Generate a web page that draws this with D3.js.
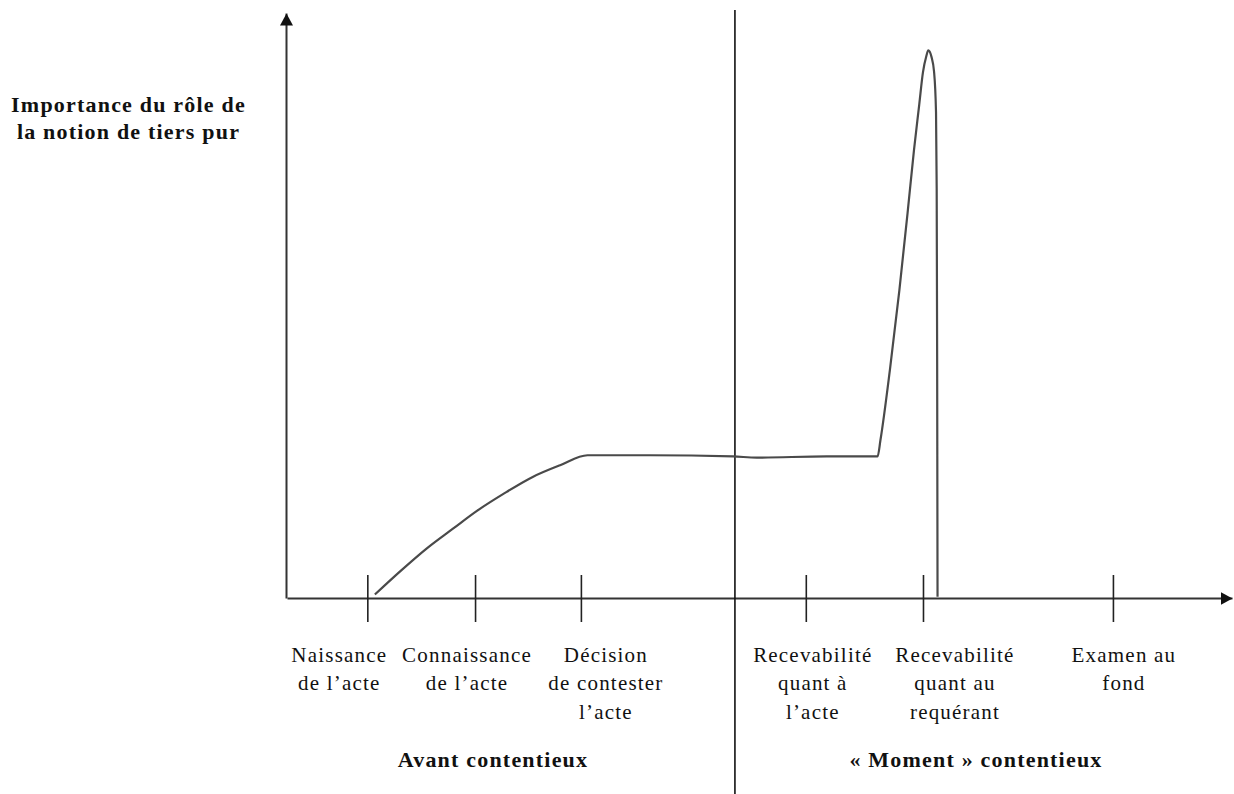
<!DOCTYPE html>
<html>
<head>
<meta charset="utf-8">
<script src="https://cdn.jsdelivr.net/npm/d3@7"></script>
<style>
  body { margin: 0; background: #fff; }
  svg { display: block; }
  svg text { font-family: "Liberation Serif", "DejaVu Serif", serif; fill: #111; }
</style>
</head>
<body>
<div class="svg-container"></div>
<script>
// stages along the time axis (position in abstract time units 0-100)
const stageLabels = [
  ["Naissance", "de l’acte"],
  ["Connaissance", "de l’acte"],
  ["Décision", "de contester", "l’acte"],
  ["Recevabilité", "quant à", "l’acte"],
  ["Recevabilité", "quant au", "requérant"],
  ["Examen au", "fond"]
];
const stageTimes = [8.5, 19.9, 31.1, 54.9, 67.3, 87.4];
const dividerTime = 47.4;

const yTitle = ["Importance du rôle de", "la notion de tiers pur"];
const phaseLabels = ["Avant contentieux", "« Moment » contentieux"];

// curve: time / importance (0-100)
const curveTime = [9.3, 12.0, 14.8, 17.6, 20.1, 22.9, 26.0, 28.9, 31.8, 38.4, 47.2, 49.7, 57.1, 62.5,
  62.8, 63.8, 64.8, 65.7, 66.35, 66.9, 67.3, 67.65, 67.86, 68.2, 68.47, 68.68, 68.75, 68.8, 68.84];
const curveValue = [0.6, 4.6, 8.5, 11.9, 14.9, 17.8, 20.7, 22.7, 24.4, 24.4, 24.2, 24.0, 24.2, 24.2,
  27.0, 39.0, 52.6, 66.3, 76.6, 84.3, 89.9, 92.6, 93.6, 92.5, 90.0, 83.0, 70.0, 40.0, 0.2];

const W = 1234, H = 794;
const svg = d3.select("div.svg-container").append("svg")
  .attr("width", W).attr("height", H);

const x = d3.scaleLinear().domain([0, 100]).range([287, 1232]);
const y = d3.scaleLinear().domain([0, 100]).range([598, 13]);

const defs = svg.append("defs");
defs.append("marker")
  .attr("id", "arrow")
  .attr("markerUnits", "userSpaceOnUse")
  .attr("viewBox", "0 0 12 13")
  .attr("refX", 12).attr("refY", 6.5)
  .attr("markerWidth", 12).attr("markerHeight", 13)
  .attr("orient", "auto")
  .append("path")
  .attr("d", "M0,0L12,6.5L0,13Z")
  .attr("fill", "#111");

// x axis with crossing ticks
const xAxis = d3.axisBottom(x).tickValues(stageTimes).tickFormat("").tickSizeOuter(0);
const xg = svg.append("g")
  .attr("transform", `translate(0,${y(0)})`)
  .call(xAxis);
xg.select(".domain").attr("stroke", "#333").attr("stroke-width", 2).attr("marker-end", "url(#arrow)");
xg.selectAll(".tick line").attr("y1", -23).attr("y2", 24).attr("stroke", "#222").attr("stroke-width", 1.6);

// y axis, no ticks
const yAxis = d3.axisLeft(y).tickValues([]).tickSizeOuter(0);
const yg = svg.append("g")
  .attr("transform", `translate(${x(0) - 1},0)`)
  .call(yAxis);
yg.select(".domain").attr("stroke", "#333").attr("stroke-width", 2).attr("marker-end", "url(#arrow)");

// divider between the two phases
svg.append("line")
  .attr("x1", x(dividerTime)).attr("x2", x(dividerTime))
  .attr("y1", 10).attr("y2", H)
  .attr("stroke", "#111").attr("stroke-width", 1.6);

// curve
const line = d3.line()
  .x((d, i) => x(curveTime[i]))
  .y(d => y(d))
  .curve(d3.curveMonotoneX);
svg.append("path")
  .datum(curveValue)
  .attr("d", line)
  .attr("fill", "none")
  .attr("stroke", "#4a4a4a")
  .attr("stroke-width", 2.2);

// stage labels (shifted a bit like in the original)
const labelShift = [-28, -8, 25, 7, 32, 11];
const lbl = svg.append("g").selectAll("text")
  .data(stageLabels)
  .join("text")
  .attr("text-anchor", "middle")
  .attr("font-size", 21)
  .attr("letter-spacing", 1.2)
  .attr("y", 662);
lbl.selectAll("tspan")
  .data((d, i) => d.map(s => ({ s, i })))
  .join("tspan")
  .attr("x", d => x(stageTimes[d.i]) + labelShift[d.i])
  .attr("dy", (d, j) => j === 0 ? 0 : 28.3)
  .text(d => d.s);

// y title
svg.append("text")
  .attr("text-anchor", "middle")
  .attr("font-size", 22)
  .attr("font-weight", "bold")
  .attr("letter-spacing", 1.2)
  .selectAll("tspan")
  .data(yTitle)
  .join("tspan")
  .attr("x", 128.5)
  .attr("y", (d, i) => 112 + i * 26.5)
  .text(d => d);

// phase labels
const phaseX = [493, 976];
svg.append("g").selectAll("text")
  .data(phaseLabels)
  .join("text")
  .attr("x", (d, i) => phaseX[i])
  .attr("y", 767)
  .attr("text-anchor", "middle")
  .attr("font-size", 22)
  .attr("font-weight", "bold")
  .attr("letter-spacing", 1.2)
  .text(d => d);
</script>
</body>
</html>
